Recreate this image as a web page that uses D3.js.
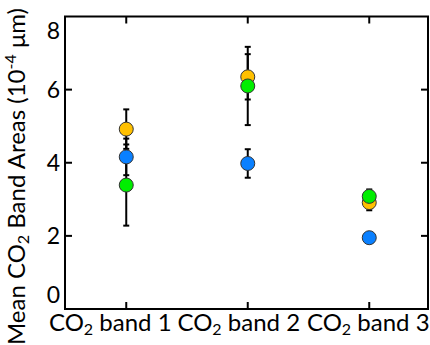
<!DOCTYPE html>
<html><head><meta charset="utf-8">
<script src="https://cdn.jsdelivr.net/npm/d3@7"></script>
<style>body{margin:0;background:#fff;} svg{display:block;}</style>
</head><body>
<svg id="c" width="430" height="345"></svg>
<script>
const categories = ["band 1", "band 2", "band 3"];
const yTicks = [0, 2, 4, 6, 8];
const orangeVals = [4.92, 6.35, 2.91];
const orangeErr  = [0.54, 0.62, 0.21];
const blueVals   = [4.16, 3.98, 1.95];
const blueErr    = [0.50, 0.39, 0.08];
const greenVals  = [3.39, 6.10, 3.08];
const greenErr   = [1.11, 1.07, 0.19];

const series = [
  {vals: orangeVals, err: orangeErr, color: "#FFC000"},
  {vals: blueVals,   err: blueErr,   color: "#0A80FF"},
  {vals: greenVals,  err: greenErr,  color: "#00EE00"}
];

const L = 65, R = 428, T = 16.5, B = 309;
const svg = d3.select("#c");
const x = d3.scaleLinear().domain([0.5, 3.5]).range([65.5, 430]);
const y = d3.scaleLinear().domain([0, 8]).range([B, T]);
const font = "Lato, 'Noto Sans', sans-serif";

// inward tick marks
const tl = 7;
const g = svg.append("g").attr("stroke", "#000").attr("stroke-width", 2);
yTicks.filter(v => v > 0 && v < 8).forEach(v => {
  g.append("line").attr("x1", L).attr("x2", L + tl).attr("y1", y(v)).attr("y2", y(v));
  g.append("line").attr("x1", R).attr("x2", R - tl).attr("y1", y(v)).attr("y2", y(v));
});
categories.forEach((c, i) => {
  g.append("line").attr("x1", x(i + 1)).attr("x2", x(i + 1)).attr("y1", B).attr("y2", B - tl);
  g.append("line").attr("x1", x(i + 1)).attr("x2", x(i + 1)).attr("y1", T).attr("y2", T + tl);
});
svg.append("rect").attr("x", L).attr("y", T).attr("width", R - L).attr("height", B - T)
  .attr("fill", "none").attr("stroke", "#000").attr("stroke-width", 2);

// y tick labels
svg.append("g").selectAll("text").data(yTicks).join("text")
  .attr("x", 60).attr("y", d => y(d) + (d === 0 ? -14 : d === 8 ? 14 : 0))
  .attr("dy", "0.35em").attr("text-anchor", "end")
  .attr("font-family", font).attr("font-size", 23).attr("fill", "#000")
  .text(d => d);

// x labels
const xoff = [-16, -9, -1];
const xl = svg.append("g").selectAll("text").data(categories).join("text")
  .attr("x", (d, i) => x(i + 1) + xoff[i]).attr("y", 331)
  .attr("text-anchor", "middle").attr("font-family", font).attr("font-size", 24).attr("fill", "#000");
xl.append("tspan").text("CO");
xl.append("tspan").attr("font-size", 16).attr("dy", 4).text("2");
xl.append("tspan").attr("dy", -4).text(d => " " + d);

// y title
const yt = svg.append("text").attr("transform", "translate(25,8) rotate(-90)")
  .attr("text-anchor", "end").attr("font-family", font).attr("font-size", 24).attr("fill", "#000");
yt.append("tspan").text("Mean CO");
yt.append("tspan").attr("font-size", 16).attr("dy", 4).text("2");
yt.append("tspan").attr("dy", -4).text(" Band Areas (10");
yt.append("tspan").attr("font-size", 16).attr("dy", -9).text("-4");
yt.append("tspan").attr("dy", 9).text(" μm)");

// error bars
const cw = 3;
const eb = svg.append("g").attr("stroke", "#000").attr("stroke-width", 2);
series.forEach(s => {
  s.vals.forEach((v, i) => {
    const cx = x(i + 1);
    eb.append("line").attr("x1", cx).attr("x2", cx).attr("y1", y(v - s.err[i])).attr("y2", y(v + s.err[i]));
    eb.append("line").attr("x1", cx - cw).attr("x2", cx + cw).attr("y1", y(v - s.err[i])).attr("y2", y(v - s.err[i]));
    eb.append("line").attr("x1", cx - cw).attr("x2", cx + cw).attr("y1", y(v + s.err[i])).attr("y2", y(v + s.err[i]));
  });
});
// markers
series.forEach(s => {
  svg.append("g").selectAll("circle").data(s.vals).join("circle")
    .attr("cx", (d, i) => x(i + 1)).attr("cy", d => y(d)).attr("r", 7)
    .attr("fill", s.color).attr("stroke", "#333").attr("stroke-width", 1);
});
</script>
</body></html>
